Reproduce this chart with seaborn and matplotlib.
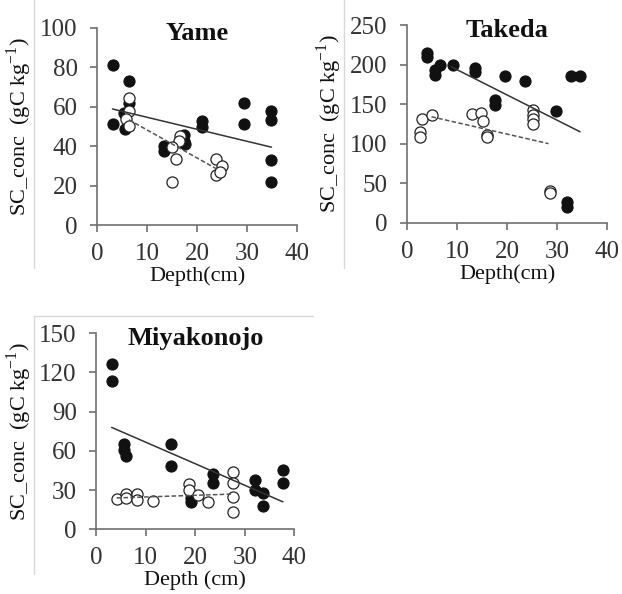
import numpy as np
import pandas as pd
import matplotlib
matplotlib.use("Agg")
import matplotlib.pyplot as plt
import seaborn as sns
from matplotlib.lines import Line2D

sns.set_theme(style="ticks")
plt.rcParams['font.family'] = ['Liberation Serif', 'DejaVu Serif']
plt.rcParams['mathtext.fontset'] = 'custom'
plt.rcParams['mathtext.rm'] = 'Liberation Serif'

# ---------------- Data ----------------
# Yame
yame_filled_depth = [3.1, 3.1, 6.4, 5.3, 5.5, 6.3, 13.3, 13.3, 17.4, 17.4, 17.5, 20.9, 20.9, 29.4, 29.4, 34.7, 34.7, 34.7, 34.7]
yame_filled_sc    = [81.4, 51.2, 72.9, 56.8, 48.7, 62.0, 40.2, 37.7, 45.8, 42.4, 41.0, 52.9, 49.7, 61.9, 51.2, 58.0, 53.4, 33.0, 22.0]
yame_open_depth = [6.4, 6.4, 5.8, 6.4, 16.6, 16.3, 14.9, 15.8, 14.9, 23.8, 23.8, 24.9, 24.5]
yame_open_sc    = [64.5, 57.7, 54.0, 50.4, 45.0, 42.4, 39.8, 33.4, 22.0, 33.4, 25.4, 29.7, 27.0]
yame_fit_solid_x = [3.1, 34.9]
yame_fit_solid_y = [58.9, 39.5]
yame_fit_dash_x = [6.4, 23.9]
yame_fit_dash_y = [53.4, 28.5]

# Takeda
takeda_filled_depth = [3.9, 3.9, 5.6, 5.6, 6.6, 9.1, 13.6, 13.6, 19.5, 23.5, 17.6, 17.6, 29.7, 32.7, 34.6, 31.9, 31.9]
takeda_filled_sc    = [214, 209, 193, 187, 200, 200, 196, 190, 185.5, 179, 155, 149, 141.6, 186, 186, 26.6, 20]
takeda_open_depth = [2.6, 2.6, 2.9, 4.9, 13.0, 14.8, 15.1, 15.9, 15.9, 25.1, 25.1, 25.1, 25.1, 28.6, 28.6]
takeda_open_sc    = [115, 108, 131, 136, 138, 139, 128, 111, 109, 142.5, 136, 131, 124.6, 40.5, 37]
takeda_fit_solid_x = [8.9, 34.6]
takeda_fit_solid_y = [197, 115]
takeda_fit_dash_x = [4.9, 28.3]
takeda_fit_dash_y = [134, 100]

# Miyakonojo
miya_filled_depth = [3.1, 3.1, 5.5, 5.5, 6.0, 15.1, 15.1, 19.1, 19.1, 23.6, 23.6, 32.1, 32.1, 33.7, 33.7, 37.7, 37.7]
miya_filled_sc    = [126.5, 113.7, 65.3, 61.0, 56.0, 65.0, 48.4, 21.0, 24.0, 42.3, 35.2, 37.7, 30.0, 27.5, 17.8, 45.4, 35.7]
miya_open_depth = [4.1, 6.1, 6.1, 8.2, 8.2, 11.5, 18.8, 18.8, 20.6, 22.6, 27.7, 27.7, 27.7, 27.7]
miya_open_sc    = [23.0, 27.0, 24.0, 27.0, 22.5, 22.0, 34.4, 30.0, 26.0, 21.0, 44.0, 35.6, 25.0, 13.0]
miya_fit_solid_x = [3.1, 37.7]
miya_fit_solid_y = [78.0, 21.0]
miya_fit_dash_x = [4.1, 27.7]
miya_fit_dash_y = [24.0, 27.0]

panels = [
    dict(title="Yame", fd=yame_filled_depth, fs=yame_filled_sc, od=yame_open_depth, os=yame_open_sc,
         sx=yame_fit_solid_x, sy=yame_fit_solid_y, dx=yame_fit_dash_x, dy=yame_fit_dash_y,
         ylim=(0, 100), yticks=[0, 20, 40, 60, 80, 100], xlabel="Depth(cm)",
         rect=[97/622, 1-225/594, 200/622, 197/594]),
    dict(title="Takeda", fd=takeda_filled_depth, fs=takeda_filled_sc, od=takeda_open_depth, os=takeda_open_sc,
         sx=takeda_fit_solid_x, sy=takeda_fit_solid_y, dx=takeda_fit_dash_x, dy=takeda_fit_dash_y,
         ylim=(0, 250), yticks=[0, 50, 100, 150, 200, 250], xlabel="Depth(cm)",
         rect=[407/622, 1-222.7/594, 200/622, 197.7/594]),
    dict(title="Miyakonojo", fd=miya_filled_depth, fs=miya_filled_sc, od=miya_open_depth, os=miya_open_sc,
         sx=miya_fit_solid_x, sy=miya_fit_solid_y, dx=miya_fit_dash_x, dy=miya_fit_dash_y,
         ylim=(0, 150), yticks=[0, 30, 60, 90, 120, 150], xlabel="Depth (cm)",
         rect=[96.3/622, 1-529.3/594, 198/622, 196/594]),
]

fig = plt.figure(figsize=(6.22, 5.94), dpi=100)
fig.patch.set_facecolor("white")

# light frame lines from embedded panels
frame_c = "#d8d8d8"
fig.add_artist(Line2D([34/622, 34/622], [1 - 0/594, 1 - 268/594], transform=fig.transFigure, color=frame_c, lw=1))
fig.add_artist(Line2D([344/622, 344/622], [1 - 0/594, 1 - 268/594], transform=fig.transFigure, color=frame_c, lw=1))
fig.add_artist(Line2D([34/622, 313/622], [1 - 316/594, 1 - 316/594], transform=fig.transFigure, color=frame_c, lw=1))
fig.add_artist(Line2D([34/622, 34/622], [1 - 316/594, 1 - 574/594], transform=fig.transFigure, color=frame_c, lw=1))

spine_c = "#707070"
text_c = "#333333"

for p in panels:
    ax = fig.add_axes(p["rect"])
    ax.set_facecolor("white")
    filled = pd.DataFrame({"depth": p["fd"], "sc": p["fs"]})
    opened = pd.DataFrame({"depth": p["od"], "sc": p["os"]})
    solid = pd.DataFrame({"depth": p["sx"], "sc": p["sy"]})
    dash = pd.DataFrame({"depth": p["dx"], "sc": p["dy"]})

    sns.scatterplot(data=filled, x="depth", y="sc", ax=ax, s=64, color="#111111",
                    edgecolor="#111111", linewidth=0.8, zorder=3, clip_on=False)
    sns.scatterplot(data=opened, x="depth", y="sc", ax=ax, s=64, facecolor="white",
                    edgecolor="#222222", linewidth=0.9, zorder=4, clip_on=False)
    sns.lineplot(data=solid, x="depth", y="sc", ax=ax, color="#333333", lw=1.1, zorder=5)
    sns.lineplot(data=dash, x="depth", y="sc", ax=ax, color="#555555", lw=1.1,
                 linestyle=(0, (3, 1.5)), zorder=5)

    ax.set_xlim(0, 40)
    ax.set_ylim(*p["ylim"])
    ax.set_xticks([0, 10, 20, 30, 40])
    ax.set_yticks(p["yticks"])
    sns.despine(ax=ax)
    for s in ["left", "bottom"]:
        ax.spines[s].set_color(spine_c)
        ax.spines[s].set_linewidth(1.2)
    ax.tick_params(axis="y", direction="out", length=5, width=1.2, color=spine_c,
                   labelsize=18, labelcolor=text_c, pad=9)
    ax.tick_params(axis="x", direction="out", length=5, width=1.2, color=spine_c,
                   labelsize=18, labelcolor=text_c, pad=8)
    ax.set_xlabel(p["xlabel"], fontsize=16, color="#111111", labelpad=1)
    ax.set_ylabel(r"SC_conc  (gC kg$^{\mathregular{-1}}$)", fontsize=16, color="#111111", labelpad=4)
    ax.text(0.5, 1.03, p["title"], transform=ax.transAxes, ha="center", va="top",
            fontsize=19, fontweight="bold", color="#111111")

fig.savefig("out.png", dpi=100, facecolor="white")
